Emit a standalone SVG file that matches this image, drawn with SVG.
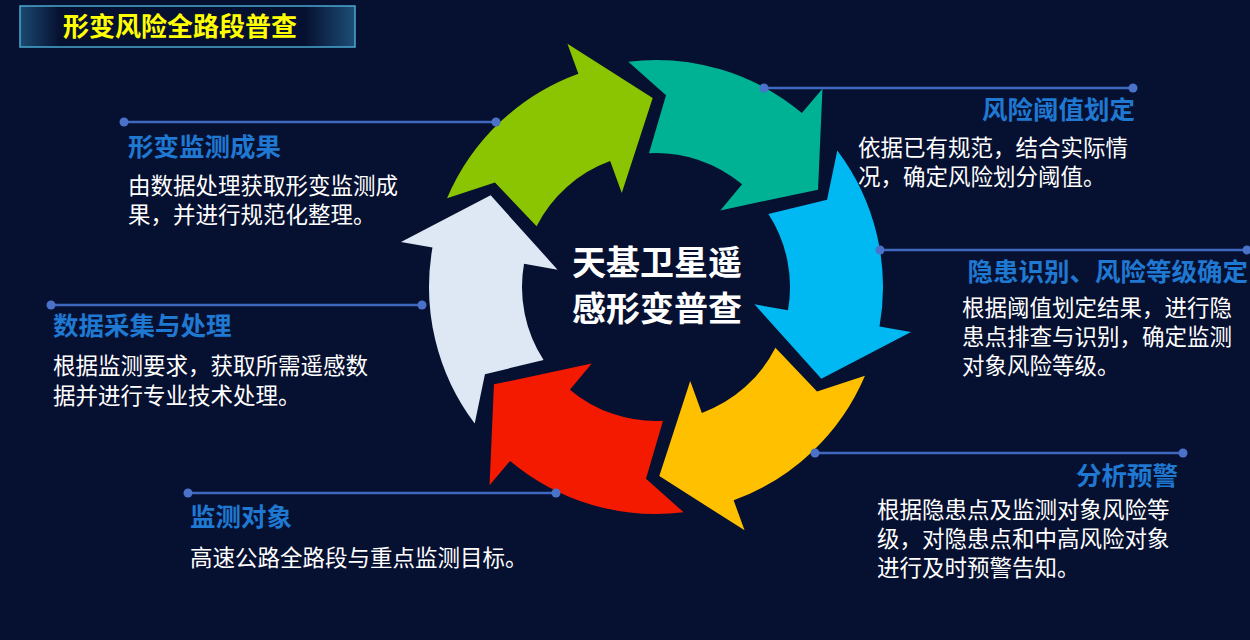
<svg xmlns="http://www.w3.org/2000/svg" width="1250" height="640" viewBox="0 0 1250 640">
<defs>
<linearGradient id="tb" x1="0" x2="1" y1="0" y2="0">
<stop offset="0" stop-color="#1a4a70"/><stop offset="0.12" stop-color="#061030"/><stop offset="0.85" stop-color="#061030"/><stop offset="1" stop-color="#1d4f78"/>
</linearGradient>
<path id="arr" d="M227,0 L189.1,33.3 L133.7,9.35 A134,134 0 0 1 91.4,98 L68.2,73.1 L76.9,172.7 L176.6,189.4 L154.8,166 A227,227 0 0 0 227,0 Z"/>
</defs>
<style>
.ttl{font-family:"Noto Sans CJK SC","Liberation Sans",sans-serif;font-weight:bold;font-size:25.5px;fill:#1f78d1}
.txt{font-family:"Noto Sans CJK SC","Liberation Sans",sans-serif;font-size:22.5px;fill:#ffffff}
.ln{stroke:#3f69c0;stroke-width:2.5}
.dt{fill:#4a72c8}
</style>
<rect width="1250" height="640" fill="#061030"/>
<g id="title">
<rect x="20" y="6" width="335" height="41" fill="url(#tb)" stroke="#4aa8d0" stroke-width="1.5"/>
<text x="180" y="36" text-anchor="middle" font-family="Noto Sans CJK SC, sans-serif" font-weight="bold" font-size="26" fill="#ffff00">形变风险全路段普查</text>
</g>
<g id="cycle" transform="translate(656,287)">
<use href="#arr" transform="rotate(-157)" fill="#8bc400"/>
<use href="#arr" transform="rotate(-97)" fill="#00b294"/>
<use href="#arr" transform="rotate(-37)" fill="#00b9f2"/>
<use href="#arr" transform="rotate(23)" fill="#ffc000"/>
<use href="#arr" transform="rotate(83)" fill="#f41a00"/>
<use href="#arr" transform="rotate(143)" fill="#dde8f4"/>
</g>
<g id="center" font-family="Noto Sans CJK SC, sans-serif" font-weight="bold" font-size="34" fill="#ffffff" text-anchor="middle">
<text x="657" y="275">天基卫星遥</text>
<text x="657" y="321">感形变普查</text>
</g>
<g id="connectors">
<line class="ln" x1="764" y1="88" x2="1133" y2="88"/><circle class="dt" cx="764" cy="88" r="4.5"/><circle class="dt" cx="1133" cy="88" r="4.5"/>
<line class="ln" x1="880" y1="250" x2="1247" y2="250"/><circle class="dt" cx="880" cy="250" r="4.5"/><circle class="dt" cx="1247" cy="250" r="4.5"/>
<line class="ln" x1="815" y1="453" x2="1183" y2="453"/><circle class="dt" cx="815" cy="453" r="4.5"/><circle class="dt" cx="1183" cy="453" r="4.5"/>
<line class="ln" x1="124" y1="122" x2="496" y2="122"/><circle class="dt" cx="124" cy="122" r="4.5"/><circle class="dt" cx="496" cy="122" r="4.5"/>
<line class="ln" x1="51" y1="305" x2="422" y2="305"/><circle class="dt" cx="51" cy="305" r="4.5"/><circle class="dt" cx="422" cy="305" r="4.5"/>
<line class="ln" x1="188" y1="493" x2="556" y2="493"/><circle class="dt" cx="188" cy="493" r="4.5"/><circle class="dt" cx="556" cy="493" r="4.5"/>
</g>
<g id="n1">
<text class="ttl" x="1135" y="119" text-anchor="end">风险阈值划定</text>
<text class="txt" x="858" y="156">依据已有规范，结合实际情</text>
<text class="txt" x="858" y="185">况，确定风险划分阈值。</text>
</g>
<g id="n2">
<text class="ttl" x="1248" y="281" text-anchor="end">隐患识别、风险等级确定</text>
<text class="txt" x="962" y="316">根据阈值划定结果，进行隐</text>
<text class="txt" x="962" y="345">患点排查与识别，确定监测</text>
<text class="txt" x="962" y="374">对象风险等级。</text>
</g>
<g id="n3">
<text class="ttl" x="1178" y="485" text-anchor="end">分析预警</text>
<text class="txt" x="877" y="518">根据隐患点及监测对象风险等</text>
<text class="txt" x="877" y="547">级，对隐患点和中高风险对象</text>
<text class="txt" x="877" y="576">进行及时预警告知。</text>
</g>
<g id="n4">
<text class="ttl" x="128" y="156">形变监测成果</text>
<text class="txt" x="128" y="194">由数据处理获取形变监测成</text>
<text class="txt" x="128" y="223">果，并进行规范化整理。</text>
</g>
<g id="n5">
<text class="ttl" x="53" y="335">数据采集与处理</text>
<text class="txt" x="53" y="374">根据监测要求，获取所需遥感数</text>
<text class="txt" x="53" y="404">据并进行专业技术处理。</text>
</g>
<g id="n6">
<text class="ttl" x="190" y="526">监测对象</text>
<text class="txt" x="190" y="566">高速公路全路段与重点监测目标。</text>
</g>
</svg>
